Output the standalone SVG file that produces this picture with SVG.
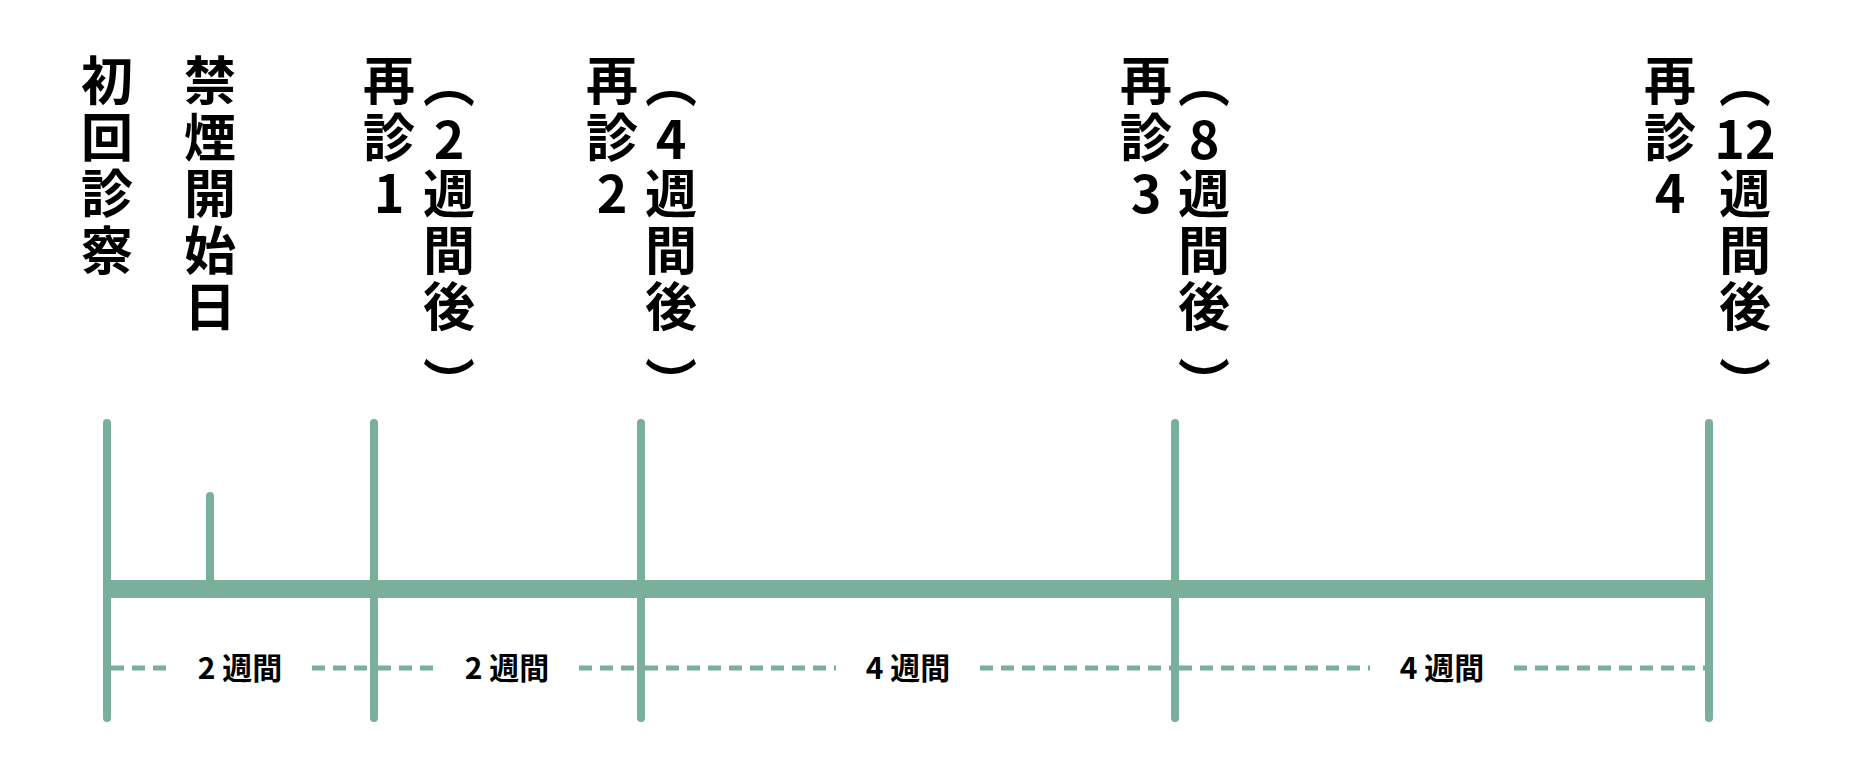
<svg xmlns="http://www.w3.org/2000/svg" width="1857" height="768" viewBox="0 0 1857 768">
<style>
.ln{stroke:#7aaf9c;stroke-width:8;stroke-linecap:round;fill:none}
.bar{stroke:#7aaf9c;stroke-width:18;fill:none}
.ds{stroke:#7aaf9c;stroke-width:5;stroke-dasharray:13 8;fill:none}
.t{font-family:"Noto Sans CJK JP","Noto Sans",sans-serif;font-size:52px;font-weight:700;fill:#000;text-anchor:middle}
.s{font-family:"Noto Sans CJK JP","Noto Sans",sans-serif;font-size:30px;font-weight:700;fill:#000;text-anchor:middle}
</style>
<rect width="1857" height="768" fill="#fff"/>
<g id="connectors">
<line class="bar" x1="107" y1="589" x2="1709" y2="589"/>
<line class="ln" x1="107" y1="423" x2="107" y2="718"/>
<line class="ln" x1="210" y1="496" x2="210" y2="582"/>
<line class="ln" x1="374" y1="423" x2="374" y2="718"/>
<line class="ln" x1="641" y1="423" x2="641" y2="718"/>
<line class="ln" x1="1175" y1="423" x2="1175" y2="718"/>
<line class="ln" x1="1709" y1="423" x2="1709" y2="718"/>
<path class="ds" d="M111 668H170M312 668H370M378 668H437M579 668H637M645 668H836M980 668H1171M1179 668H1370M1514 668H1705"/>
</g>
<g id="n-initial"><text class="t"><tspan x="107" y="100">初</tspan><tspan x="107" y="157">回</tspan><tspan x="107" y="213">診</tspan><tspan x="107" y="270">察</tspan></text></g>
<g id="n-quit"><text class="t"><tspan x="210" y="100">禁</tspan><tspan x="210" y="157">煙</tspan><tspan x="210" y="213">開</tspan><tspan x="210" y="270">始</tspan><tspan x="210" y="326">日</tspan></text></g>
<g id="n-visit1"><text class="t"><tspan x="389" y="100">再</tspan><tspan x="389" y="157">診</tspan><tspan x="389" y="213">1</tspan></text>
<text class="t"><tspan x="449" y="102">︵</tspan><tspan x="449" y="159">2</tspan><tspan x="449" y="213">週</tspan><tspan x="449" y="270">間</tspan><tspan x="449" y="326">後</tspan><tspan x="449" y="403">︶</tspan></text></g>
<g id="n-visit2"><text class="t"><tspan x="612" y="100">再</tspan><tspan x="612" y="157">診</tspan><tspan x="612" y="213">2</tspan></text>
<text class="t"><tspan x="671" y="102">︵</tspan><tspan x="671" y="159">4</tspan><tspan x="671" y="213">週</tspan><tspan x="671" y="270">間</tspan><tspan x="671" y="326">後</tspan><tspan x="671" y="403">︶</tspan></text></g>
<g id="n-visit3"><text class="t"><tspan x="1146" y="100">再</tspan><tspan x="1146" y="157">診</tspan><tspan x="1146" y="213">3</tspan></text>
<text class="t"><tspan x="1204" y="102">︵</tspan><tspan x="1204" y="159">8</tspan><tspan x="1204" y="213">週</tspan><tspan x="1204" y="270">間</tspan><tspan x="1204" y="326">後</tspan><tspan x="1204" y="403">︶</tspan></text></g>
<g id="n-visit4"><text class="t"><tspan x="1670" y="100">再</tspan><tspan x="1670" y="157">診</tspan><tspan x="1670" y="213">4</tspan></text>
<text class="t"><tspan x="1745" y="102">︵</tspan><tspan x="1745" y="159">12</tspan><tspan x="1745" y="213">週</tspan><tspan x="1745" y="270">間</tspan><tspan x="1745" y="326">後</tspan><tspan x="1745" y="403">︶</tspan></text></g>
<g id="labels">
<text class="s" x="240" y="679">2 週間</text>
<text class="s" x="507" y="679">2 週間</text>
<text class="s" x="908" y="679">4 週間</text>
<text class="s" x="1442" y="679">4 週間</text>
</g>
</svg>
